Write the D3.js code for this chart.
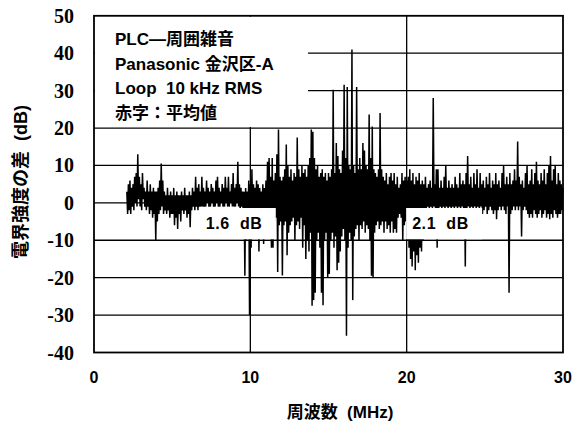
<!DOCTYPE html>
<html>
<head>
<meta charset="utf-8">
<script src="https://cdn.jsdelivr.net/npm/d3@7"></script>
<style>
  html, body { margin: 0; padding: 0; background: #fff; }
  svg { display: block; }
  .sans { font-family: "Liberation Sans", Arial, "Noto Sans CJK JP", sans-serif; font-weight: bold; }
  .serif { font-family: "Liberation Serif", "Times New Roman", serif; font-weight: bold; }
</style>
</head>
<body>
<svg id="chart" width="576" height="432"></svg>
<script>
// Axis ticks
const xTicks = [0, 10, 20, 30];
const yTicks = [-40, -30, -20, -10, 0, 10, 20, 30, 40, 50];

// Legend lines inside the upper-left note
const noteLines = ["PLC—周囲雑音", "Panasonic 金沢区-A", "Loop  10 kHz RMS", "赤字：平均値"];

// Average difference for the two halves of the band
const averageLabels = ["1.6  dB", "2.1  dB"];
const averageAtMHz = [7.15, 20.35];

// Field-strength difference (dB), sampled every 0.05 MHz; one row per MHz,
// each row starting at the frequency listed in rowStartMHz.
const stepMHz = 0.05;
const rowStartMHz = [2, 3, 4, 5, 6, 7, 8, 9, 10, 11, 12, 13, 14, 15, 16, 17, 18, 19, 20, 21, 22, 23, 24, 25, 26, 27, 28, 29, 30];
const diffDb = [
  [null, null, 3, -3, 5, -2, 6, -3, 4, -1, 5, -2, 7, 0, 8, -1, 13, 1, 7, -1],
  [5, -2, 8, 1, 4, -1, 3, -2, 6, -1, 3, -3, 5, -2, 3, -4, 4, -3, 3, -10],
  [3, -5, 4, -3, 6, -2, 10.5, -1, 6, -3, 3, -2, 2, -3, 4, -2, 2, -4, 3, -3],
  [2, -3, 4, -6, 2, -4, 3, -7, 2, -3, 2, -5, 3, -2, 2, -3, 4, -2, 2, -4],
  [2, -3, 3, -6.5, 2, -2, 4, -1, 3, -2, 7, -1, 4, -2, 5, -1, 3, -1, 7, -1],
  [4, -1, 3, -1, 6, 0, 4, -1, 3, -1, 5, 0, 4, -1, 3, -1, 6, 0, 7, -1],
  [4, -1, 3, 0, 5, -1, 4, -1, 7, 0, 4, -1, 7, -1, 3, 0, 5, -1, 8, -1],
  [4, -1, 5, 0, 11, -1, 5, -2, 4, -1, 3, -3, 3, -19.5, 4, -10, 3, -3, 6, -30],
  [5, -12, 9, -4, 5, -3, 4, -2, 6, -4, 5, -13, 4, -3, 3, -2, 5, -11, 4, -2],
  [6, -3, 11, -2, 12, -4, 7, -12, 12, -12, 6, -5, 8, -4, 13, -18.5, 19.6, -6, 7, -5],
  [6, -19.4, 7, -6, 9, -5, 15.6, -14, 10, -8, 7, -6, 9, -5, 6, -4, 8, -10, 7, -6],
  [17.5, -5, 9, -7, 7, -4, 10, -12, 8, -6, 9, -15, 7, -10, 10, -13, 12, -8, 19.6, -27.5],
  [19, -26, 12, -24, 9, -10, 10, -8, 7, -12, 8, -24, 9, -27.4, 7, -10, 8, -8, 6, -20],
  [8, -19, 7, -10, 9, -8, 30.2, -12, 8, -9, 16, -18, 12.5, -16, 9, -13, 8, -9, 14, -7],
  [31.6, -10, 12, -35.5, 31, -12, 10, -8, 9, -10, 41, -26, 10, -9, 8, -7, 31, -6, 9, -10],
  [12, -6, 9, -7, 16, -5, 14, -8, 10, -6, 9, -7, 23.6, -10, 12, -19.5, 20.4, -20, 9, -8],
  [8, -6, 7, -5, 9, -7, 24, -6, 9, -5, 7, -8, 6, -5, 8, -7, 5, -6, 7, -8],
  [8, -5, 6, -8, 8, -7, 5, -8, 7, -4, 4, -3, 5, -4, 8, -10, 6, -6, 7, -5],
  [6, -10, 7, -12, 9, -15, 6, -17, 8, -13, 5, -18, 7, -14, 6, -16, 8, -12, 5, -13],
  [6, -10, 5, -3, 7, -2, 4, -1, 5, -2, 6, -1, 4, -2, 28, -1, 5, -2, 9, -12],
  [9, -2, 4, -1, 6, -2, 4, -1, 7, -2, 10, -1, 4, -2, 6, -1, 4, -2, 5, -1],
  [4, -2, 7, -1, 5, -2, 4, -1, 8, -2, 5, -1, 6, -3, 5, -17, 8, -2, 12.5, -1],
  [5, -2, 7, -1, 4, -2, 8, -1, 5, -2, 9, -1, 4, -2, 8, -1, 5, -3, 6, -2],
  [4, -1, 7, -3, 5, -2, 8, -1, 4, -2, 6, -3, 5, -2, 8, -4.4, 5, -2, 6, -1],
  [4, -2, 8, -1, 10, -2, 5, -3, 7, -1, 5, -24, 8, -3, 5, -2, 6, -1, 9, -2],
  [6, -1, 16.4, -2, 7, -1, 5, -9, 6, -2, 4, -1, 8, -2, 10, -3, 5, -4, 6, -3],
  [9, -4, 5, -2, 8, -3, 11, -4, 6, -3, 5, -2, 8, -4, 6, -3, 9, -2, 5, -4],
  [8, -3, 10, -4.4, 12.5, -3, 6, -4, 9, -2, 10, -3, 5, -4, 8, -3, 6, -3, 5, -2],
  [4]
];

const points = [];
diffDb.forEach((row, r) => {
  row.forEach((v, i) => {
    if (v !== null) points.push({ f: rowStartMHz[r] + i * stepMHz, v });
  });
});

const svg = d3.select("#chart");
const plot = { left: 94, right: 563, top: 15.8, bottom: 352.5 };

const x = d3.scaleLinear().domain([0, 30]).range([plot.left, plot.right]);
const y = d3.scaleLinear().domain([-40, 50]).range([plot.bottom, plot.top]);

// Gridlines
const grid = svg.append("g").attr("stroke", "#000").attr("stroke-width", 1.3);
grid.selectAll("line.h")
  .data(yTicks.filter(t => t > -40 && t < 50))
  .join("line")
  .attr("x1", plot.left).attr("x2", plot.right)
  .attr("y1", d => y(d)).attr("y2", d => y(d));
grid.selectAll("line.v")
  .data(xTicks.filter(t => t > 0 && t < 30))
  .join("line")
  .attr("x1", d => x(d)).attr("x2", d => x(d))
  .attr("y1", plot.top).attr("y2", plot.bottom);

// Note panel in the upper-left corner hides the grid behind it
svg.append("rect")
  .attr("x", plot.left + 1).attr("y", plot.top + 1)
  .attr("width", 308 - plot.left - 1)
  .attr("height", y(20) - plot.top - 2)
  .attr("fill", "#fff");

// Trace
const line = d3.line().x(d => x(d.f)).y(d => y(d.v));
svg.append("path")
  .datum(points)
  .attr("d", line)
  .attr("fill", "none")
  .attr("stroke", "#000")
  .attr("stroke-width", 1.5)
  .attr("stroke-linejoin", "miter");

// Average labels on white panels
averageLabels.forEach((txt, k) => {
  const x0 = x(averageAtMHz[k]);
  svg.append("rect")
    .attr("x", x0 - 6).attr("y", 208)
    .attr("width", 76).attr("height", y(-10) - 209)
    .attr("fill", "#fff");
  svg.append("text")
    .attr("class", "sans")
    .attr("x", x0).attr("y", 229)
    .attr("font-size", 16)
    .attr("letter-spacing", 0.6)
    .style("white-space", "pre")
    .text(txt);
});

// Frame
svg.append("rect")
  .attr("x", plot.left).attr("y", plot.top)
  .attr("width", plot.right - plot.left).attr("height", plot.bottom - plot.top)
  .attr("fill", "none").attr("stroke", "#000").attr("stroke-width", 1.8);

// Note text
svg.append("g").selectAll("text")
  .data(noteLines)
  .join("text")
  .attr("class", "sans")
  .attr("x", 115)
  .attr("y", (d, i) => 45 + i * 24.6)
  .attr("font-size", 17)
  .style("white-space", "pre")
  .text(d => d);

// Y tick labels
svg.append("g").selectAll("text")
  .data(yTicks)
  .join("text")
  .attr("class", "serif")
  .attr("x", 74)
  .attr("y", d => y(d) + 7)
  .attr("text-anchor", "end")
  .attr("font-size", 20)
  .text(d => d);

// X tick labels
svg.append("g").selectAll("text")
  .data(xTicks)
  .join("text")
  .attr("class", "sans")
  .attr("x", d => x(d))
  .attr("y", 383)
  .attr("text-anchor", "middle")
  .attr("font-size", 16)
  .text(d => d);

// Axis titles
svg.append("text")
  .attr("class", "sans")
  .attr("x", 340).attr("y", 418)
  .attr("text-anchor", "middle")
  .attr("font-size", 17)
  .style("white-space", "pre")
  .text("周波数  (MHz)");

svg.append("text")
  .attr("class", "sans")
  .attr("transform", "translate(27,182) rotate(-90)")
  .attr("text-anchor", "middle")
  .attr("font-size", 18)
  .style("white-space", "pre")
  .text("電界強度の差  (dB)");
</script>
</body>
</html>
